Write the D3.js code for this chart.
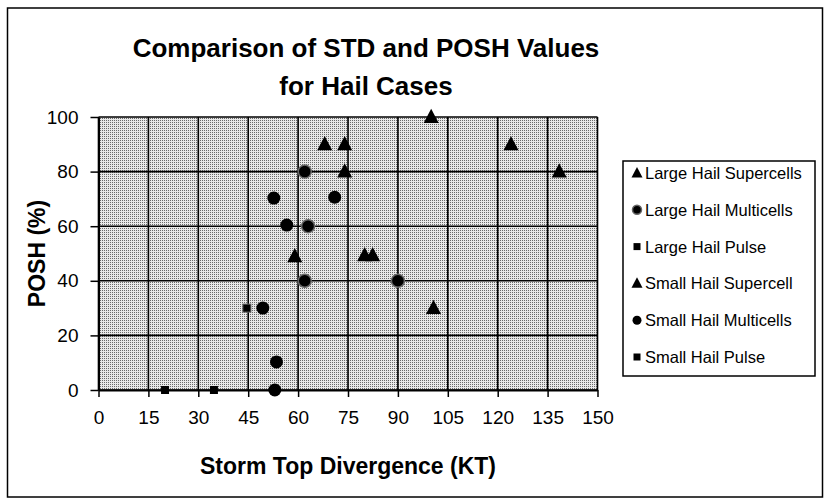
<!DOCTYPE html>
<html>
<head>
<meta charset="utf-8">
<script src="https://cdn.jsdelivr.net/npm/d3@7/dist/d3.min.js"></script>
<style>
  html, body { margin: 0; padding: 0; background: #ffffff; }
  svg { display: block; font-family: "Liberation Sans", Arial, sans-serif; }
</style>
</head>
<body>
<svg id="chart" width="830" height="504"></svg>
<script>
// ---- data ----
const titleLines = ["Comparison of STD and POSH Values", "for Hail Cases"];
const xTicks = [0, 15, 30, 45, 60, 75, 90, 105, 120, 135, 150];
const yTicks = [0, 20, 40, 60, 80, 100];
const xLabel = "Storm Top Divergence (KT)";
const yLabel = "POSH (%)";

const seriesNames = ["Large Hail Supercells", "Large Hail Multicells", "Large Hail Pulse",
                     "Small Hail Supercell", "Small Hail Multicells", "Small Hail Pulse"];
const seriesShapes = ["triangle", "circle", "square", "triangle", "circle", "square"];

const largeSupercellX = [68, 74, 74, 100, 124, 138.5, 59];
const largeSupercellY = [90, 90, 80, 100, 90, 80, 49];
const largeMulticellX = [62, 63, 62, 90];
const largeMulticellY = [80, 60, 40, 40];
const largePulseX = [44.6];
const largePulseY = [30];
const smallSupercellX = [80, 82.4, 100.7];
const smallSupercellY = [49.4, 49.4, 30];
const smallMulticellX = [52.7, 56.6, 71, 49.4, 53.5, 53];
const smallMulticellY = [70.3, 60.4, 70.6, 30, 10.3, 0];
const smallPulseX = [20, 34.7];
const smallPulseY = [0, 0];

const seriesX = [largeSupercellX, largeMulticellX, largePulseX, smallSupercellX, smallMulticellX, smallPulseX];
const seriesY = [largeSupercellY, largeMulticellY, largePulseY, smallSupercellY, smallMulticellY, smallPulseY];

// ---- layout ----
const svg = d3.select("#chart");
const plot = { left: 98.5, right: 597.5, top: 117, bottom: 390 };

const x = d3.scaleLinear().domain([0, 150]).range([plot.left, plot.right]);
const y = d3.scaleLinear().domain([0, 100]).range([plot.bottom, plot.top]);

// outer border
svg.append("rect").attr("x", 7.5).attr("y", 8).attr("width", 815).attr("height", 489)
  .attr("fill", "none").attr("stroke", "#000").attr("stroke-width", 1.5);

// stipple pattern
const defs = svg.append("defs");
const pat = defs.append("pattern").attr("id", "stip").attr("patternUnits", "userSpaceOnUse")
  .attr("width", 2).attr("height", 2);
pat.append("rect").attr("width", 2).attr("height", 2).attr("fill", "#e8e8e8");
pat.append("rect").attr("width", 1).attr("height", 1).attr("fill", "#6a6a6a");

svg.append("rect").attr("x", plot.left).attr("y", plot.top)
  .attr("width", plot.right - plot.left).attr("height", plot.bottom - plot.top)
  .attr("fill", "url(#stip)");

// grid
svg.append("g").selectAll("line").data(xTicks).join("line")
  .attr("x1", d => x(d)).attr("x2", d => x(d)).attr("y1", plot.top).attr("y2", plot.bottom)
  .attr("stroke", "#000").attr("stroke-width", 1.6);
svg.append("g").selectAll("line").data(yTicks).join("line")
  .attr("x1", plot.left).attr("x2", plot.right).attr("y1", d => y(d)).attr("y2", d => y(d))
  .attr("stroke", "#000").attr("stroke-width", 1.6);

// axes
const xAxis = svg.append("g").attr("transform", `translate(0,${plot.bottom})`)
  .call(d3.axisBottom(x).tickValues(xTicks).tickSize(7).tickPadding(14).tickSizeOuter(0));
const yAxis = svg.append("g").attr("transform", `translate(${plot.left},0)`)
  .call(d3.axisLeft(y).tickValues(yTicks).tickSize(8).tickPadding(12).tickSizeOuter(0));
[xAxis, yAxis].forEach(a => {
  a.select(".domain").attr("stroke", "#000").attr("stroke-width", 2);
  a.selectAll(".tick line").attr("stroke", "#000").attr("stroke-width", 1.5);
  a.selectAll(".tick text").attr("fill", "#000").attr("font-size", 19)
    .attr("font-family", "'Liberation Sans', Arial, sans-serif");
});

// titles
svg.append("g").selectAll("text").data(titleLines).join("text")
  .attr("x", 366).attr("y", (d, i) => 57 + i * 38)
  .attr("text-anchor", "middle").attr("font-size", 26).attr("font-weight", "bold")
  .text(d => d);

svg.append("text").attr("x", (plot.left + plot.right) / 2).attr("y", 474)
  .attr("text-anchor", "middle").attr("font-size", 23).attr("font-weight", "bold").text(xLabel);

svg.append("text").attr("transform", `translate(45,${(plot.top + plot.bottom) / 2}) rotate(-90)`)
  .attr("text-anchor", "middle").attr("font-size", 23).attr("font-weight", "bold").text(yLabel);

// marker drawing
function drawMarker(g, shape, cx, cy, s, ring) {
  if (shape === "triangle") {
    g.append("path").attr("d", `M${cx},${cy - s * 0.55}L${cx + s * 0.5},${cy + s * 0.4}L${cx - s * 0.5},${cy + s * 0.4}Z`)
      .attr("fill", "#000");
  } else if (shape === "circle") {
    g.append("circle").attr("cx", cx).attr("cy", cy).attr("r", s / 2)
      .attr("fill", "#000").attr("stroke", ring ? "#666" : "none").attr("stroke-width", ring ? 1.5 : 0);
  } else {
    g.append("rect").attr("x", cx - s / 2).attr("y", cy - s / 2).attr("width", s).attr("height", s)
      .attr("fill", "#000").attr("stroke", ring ? "#666" : "none").attr("stroke-width", ring ? 1 : 0);
  }
}
const plotSizes = { triangle: 15, circle: 13, square: 8 };

const pts = svg.append("g");
seriesNames.forEach((name, si) => {
  const shape = seriesShapes[si];
  const ring = si === 1 || si === 2;
  seriesX[si].forEach((xv, j) => {
    drawMarker(pts, shape, x(xv), y(seriesY[si][j]), plotSizes[shape], ring);
  });
});

// legend
const legend = svg.append("g");
legend.append("rect").attr("x", 623).attr("y", 161).attr("width", 192).attr("height", 215)
  .attr("fill", "#fff").attr("stroke", "#000").attr("stroke-width", 1.5);
const legendSizes = { triangle: 11, circle: 9, square: 7 };
seriesNames.forEach((name, i) => {
  const cy = 173 + i * 36.8;
  drawMarker(legend, seriesShapes[i], 637, cy, legendSizes[seriesShapes[i]], i === 1);
  legend.append("text").attr("x", 645).attr("y", cy + 6).attr("font-size", 16.5)
    .attr("fill", "#000").text(name);
});
</script>
</body>
</html>
